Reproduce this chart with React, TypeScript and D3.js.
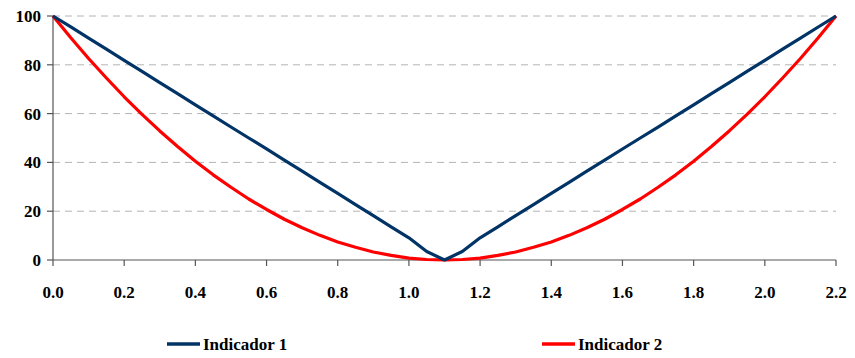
import React from "react";
import * as d3 from "d3";

const xs = [0, 0.05, 0.1, 0.15, 0.2, 0.25, 0.3, 0.35, 0.4, 0.45, 0.5, 0.55, 0.6, 0.65, 0.7, 0.75, 0.8, 0.85, 0.9, 0.95, 1.0, 1.05, 1.1,
  1.15, 1.2, 1.25, 1.3, 1.35, 1.4, 1.45, 1.5, 1.55, 1.6, 1.65, 1.7, 1.75, 1.8, 1.85, 1.9, 1.95, 2.0, 2.05, 2.1, 2.15, 2.2];
const indicador1 = [100, 95.5, 90.9, 86.4, 81.8, 77.3, 72.7, 68.2, 63.6, 59.1, 54.5, 50, 45.5, 40.9, 36.4, 31.8, 27.3, 22.7, 18.2, 13.6, 9.1, 3.5, 0,
  3.5, 9.1, 13.6, 18.2, 22.7, 27.3, 31.8, 36.4, 40.9, 45.5, 50, 54.5, 59.1, 63.6, 68.2, 72.7, 77.3, 81.8, 86.4, 90.9, 95.5, 100];
const indicador2 = [100, 91.1, 82.6, 74.6, 66.9, 59.7, 52.9, 46.5, 40.5, 34.9, 29.8, 25.0, 20.7, 16.7, 13.2, 10.1, 7.4, 5.2, 3.3, 1.9, 0.8, 0.2, 0,
  0.2, 0.8, 1.9, 3.3, 5.2, 7.4, 10.1, 13.2, 16.7, 20.7, 25.0, 29.8, 34.9, 40.5, 46.5, 52.9, 59.7, 66.9, 74.6, 82.6, 91.1, 100];
const xTicks = [0, 0.2, 0.4, 0.6, 0.8, 1.0, 1.2, 1.4, 1.6, 1.8, 2.0, 2.2];
const yTicks = [0, 20, 40, 60, 80, 100];
const seriesNames = ["Indicador 1", "Indicador 2"];
const colors = ["#003366", "#ff0000"];

export default function App() {
  const W = 855, H = 358;
  const left = 53, right = 836, top = 16, bottom = 260;
  const x = d3.scaleLinear().domain([0, 2.2]).range([left, right]);
  const y = d3.scaleLinear().domain([0, 100]).range([bottom, top]);
  const line = d3.line<number>().x((_, i) => x(xs[i])).y((d) => y(d)).curve(d3.curveLinear);
  const txt = { fontFamily: "'Liberation Serif'", fontWeight: 700, fontSize: "17px" };
  const legendX = [167, 542];
  return (
    <svg width={W} height={H} style={{ display: "block", marginLeft: -8, marginTop: -8 }}>
      <style>{`svg text { font-family: 'Liberation Serif' !important; font-weight: 700 !important; }`}</style>
      {yTicks.filter((t) => t > 0).map((t) => (
        <line key={t} x1={left} x2={right} y1={y(t)} y2={y(t)} stroke="#b4b4b4" strokeDasharray="7,5" strokeWidth={1} />
      ))}
      <line x1={left} x2={left} y1={top} y2={bottom} stroke="#555" strokeWidth={1.2} />
      <line x1={left} x2={right} y1={bottom} y2={bottom} stroke="#555" strokeWidth={1.2} />
      {yTicks.map((t) => (
        <line key={"yt" + t} x1={left - 6} x2={left} y1={y(t)} y2={y(t)} stroke="#555" strokeWidth={1.2} />
      ))}
      {yTicks.map((t) => (
        <text key={"yl" + t} x={41} y={y(t) + 6} textAnchor="end" fontFamily="Liberation Serif" style={txt} fill="#000">{t}</text>
      ))}
      {xTicks.map((t) => (
        <line key={"xt" + t} x1={x(t)} x2={x(t)} y1={bottom} y2={bottom + 6} stroke="#555" strokeWidth={1.2} />
      ))}
      {xTicks.map((t) => (
        <text key={"xl" + t} x={x(t)} y={298} textAnchor="middle" fontFamily="Liberation Serif" style={txt} fill="#000">{t.toFixed(1)}</text>
      ))}
      <path d={line(indicador2) || ""} fill="none" stroke={colors[1]} strokeWidth={3.2} strokeLinejoin="round" />
      <path d={line(indicador1) || ""} fill="none" stroke={colors[0]} strokeWidth={3.2} strokeLinejoin="round" />
      {seriesNames.map((n, i) => (
        <line key={"ll" + n} x1={legendX[i]} x2={legendX[i] + 33} y1={344} y2={344} stroke={colors[i]} strokeWidth={3.5} />
      ))}
      {seriesNames.map((n, i) => (
        <text key={"lt" + n} x={legendX[i] + 36} y={350} fontFamily="Liberation Serif" style={txt} fill="#000">{n}</text>
      ))}
    </svg>
  );
}
